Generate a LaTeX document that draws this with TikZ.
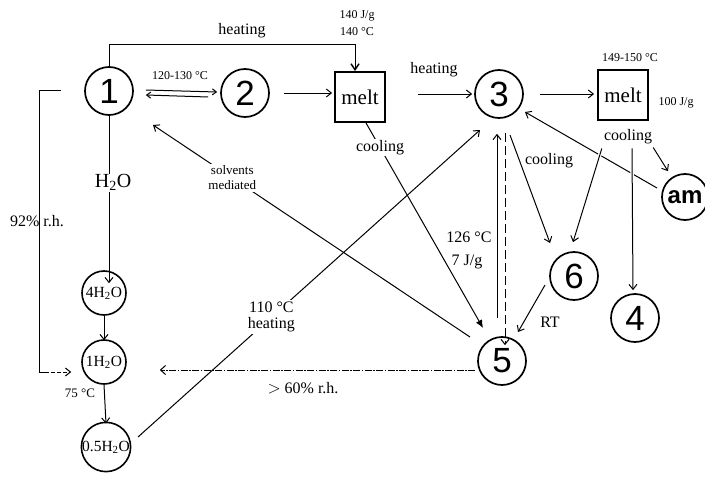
\documentclass[tikz,border=0pt]{standalone}
\usepackage{fontspec}
\setmainfont{Liberation Serif}
\newfontfamily\hv{Liberation Sans}
\usetikzlibrary{arrows.meta,calc}

\begin{document}
\begin{tikzpicture}[x=1pt,y=-1pt,
  num/.style={circle,draw,line width=1.7pt,minimum size=48pt,inner sep=0pt,
              font=\hv\fontsize{35}{35}\selectfont},
  hyd/.style={circle,draw,line width=1.6pt,minimum size=44pt,inner sep=0pt,
              font=\fontsize{15.5}{16}\selectfont},
  meltbox/.style={draw,line width=1.8pt,minimum width=50pt,minimum height=50pt,
              inner sep=0pt,font=\fontsize{21}{21}\selectfont},
  conn/.style={line width=1pt},
  arr/.style={conn,-{Straight Barb[length=5pt,width=8pt]}},
  lbl/.style={font=\fontsize{16}{17}\selectfont,inner sep=1pt},
  small/.style={font=\fontsize{12}{14}\selectfont,inner sep=1pt},
  cut/.style={fill=white},
  halo/.style={preaction={draw=white,line width=3.5pt,-}},
]
\useasboundingbox (0,0) rectangle (705,479);

% ---- states ----
\node[num] (n1) at (109,91) {1};
\node[num] (n2) at (245,93) {2};
\node[meltbox] (m1) at (360,97) {melt};
\node[num] (n3) at (499,94) {3};
\node[meltbox] (m2) at (623,95) {melt};
\node[circle,draw,line width=1.7pt,minimum size=46pt,inner sep=0pt,
      font=\hv\bfseries\fontsize{24}{24}\selectfont] (am) at (685,197) {am};
\node[num] (n6) at (574,276) {6};
\node[num] (n4) at (635,318) {4};
\node[num] (n5) at (502,361) {5};
\node[hyd] (w4) at (104,293) {4H\textsubscript{2}O};
\node[hyd] (w1) at (104,362) {1H\textsubscript{2}O};
\node[hyd] (w05) at (106,447) {0.5H\textsubscript{2}O};

% ---- free labels ----
\node[small] at (357,16) {140 J/g};
\node[small] at (357,32) {140 °C};
\node[lbl] at (242,31) {heating};
\node[small] at (180,76) {120-130 °C};
\node[lbl] at (434,70) {heating};
\node[small] at (630,58) {149-150 °C};
\node[small] at (676,103) {100 J/g};
\node[lbl] (c2) at (628,137) {cooling};
\node[lbl] at (37,221) {92\% r.h.};
\node[lbl] at (80,393) {\fontsize{13}{14}\selectfont 75 °C};
\node[lbl] at (550,322) {RT};
\node[lbl] at (303,388) {$>$ 60\% r.h.};

% ---- 1 -> melt (heating) ----
\coordinate (h1) at (355,44);
\draw[conn,-{Straight Barb[length=6pt,width=8pt,line width=1.5pt]}]
  (n1.north) |- (h1) -- (h1 |- m1.north);

% ---- 1 <=> 2 ----
\draw[conn,-{Straight Barb[length=4pt,width=6pt]}]
  ($(n1.east)+(12,-1)$) -- ($(n2.west)+(-3,-1)$);
\draw[conn,-{Straight Barb[length=4pt,width=6pt]}]
  ($(n2.west)+(-12,4)$) -- ($(n1.east)+(12,4)$);

% ---- 2 -> melt -> 3 -> melt ----
\draw[arr,shorten <=14pt,shorten >=2pt] (n2.east) -- (n2.east -| m1.west);
\draw[arr,shorten <=32pt,shorten >=2pt] (n3.west -| m1.east) -- (n3.west);
\draw[arr,shorten <=16pt,shorten >=3pt] (n3.east) -- (n3.east -| m2.west);

% ---- melt -> 5 (cooling) ----
\coordinate (m1a) at ($(m1.south)+(6,0)$);
\coordinate (n5a) at ($(n5)+(-19,-33)$);
\draw[conn,-{Latex[length=8pt,width=7pt]}] (m1a) --
  node[lbl,cut,pos=0.12] {cooling} (n5a);

% ---- 5 -> 1 (solvents mediated) ----
\coordinate (n5b) at ($(n5)+(-32,-24)$);
\coordinate (n1b) at ($(n1)+(44,34)$);
\draw[arr] (n5b) --
  node[font=\fontsize{13}{15}\selectfont,inner sep=2pt,cut,align=center,pos=0.75]
  {solvents\\mediated} (n1b);

% ---- 0.5H2O -> 3 (110 C heating) ----
\coordinate (w05a) at ($(w05)+(32,-10)$);
\coordinate (n3a) at ($(n3)+(-19,36)$);
\draw[arr] (w05a) --
  node[font=\fontsize{16}{16}\selectfont,cut,align=center,pos=0.39,inner sep=2pt]
  {110 °C\\heating} (n3a);

% ---- 5 <-> 3 ----
\coordinate (v1) at ($(n5)+(-5,-43)$);
\draw[arr] (v1) -- (v1 |- {$(n3.south)+(0,15)$});
\node[lbl,cut,inner sep=1.5pt] at (469,237) {126 °C};
\node[lbl] at (467,262) {7 J/g};
\coordinate (v2) at ($(n3)+(6,39)$);
\draw[arr,dash pattern=on 9pt off 4pt] (v2) -- (v2 |- {$(n5.north)+(0,9)$});

% ---- 3 -> 6 (cooling) ----
\coordinate (n3b) at ($(n3)+(11,41)$);
\coordinate (n6a) at ($(n6)+(-24,-33)$);
\draw[arr] (n3b) -- (n6a);
\node[lbl,cut] at (549,161) {cooling};

% ---- am -> 3 ----
\coordinate (ama) at ($(am)+(-28,-9)$);
\coordinate (n3c) at ($(n3)+(26,18)$);
\draw[arr] (ama) -- (n3c);

% ---- melt cooling -> 6, 4, am ----
\draw[arr,halo] ($(c2.south west)+(-1,3)$) -- ($(n6.north)+(-1,-9)$);
\draw[arr,halo] ($(c2.south)+(4,3)$) -- ($(n4.north)+(-2,-3)$);
\draw[arr] ($(c2.south east)+(0,2)$) -- ($(am.north)+(-17,-2)$);

% ---- 6 -> 5 (RT) ----
\coordinate (n6b) at ($(n6)+(-29,9)$);
\draw[arr] (n6b) -- ($(n5)+(16,-29)$);

% ---- hydrate chain ----
\draw[arr] (n1.south) -- node[lbl,cut,pos=0.40,font=\fontsize{20}{20}\selectfont,xshift=4pt]
  {H\textsubscript{2}O} (n1.south |- {$(w4.north)+(0,13)$});
\draw[arr] (w4.south) -- ($(w1.north)+(0,1)$);
\draw[arr] (w1.south) -- ($(w05.north)+(0,2)$);

% ---- 92 % r.h. bracket ----
\coordinate (b1) at (61,90);
\coordinate (b2) at (39,90);
\coordinate (b3) at (39,372);
\draw[conn] (b1) -- (b2) -- (b3) -- ++(10,0);
\draw[arr,dash pattern=on 4pt off 2pt] ($(b3)+(12,0)$) -- ($(w1.west)+(-10,10)$);

% ---- 5 -> 1H2O (> 60 % r.h.) ----
\draw[conn,-{Straight Barb[length=5pt,width=9pt]},
      dash pattern=on 7pt off 1.5pt on 1.5pt off 1.5pt]
  ($(n5.west)+(-2,9)$) -- ($(w1.east)+(33,8)$);

\end{tikzpicture}
\end{document}
